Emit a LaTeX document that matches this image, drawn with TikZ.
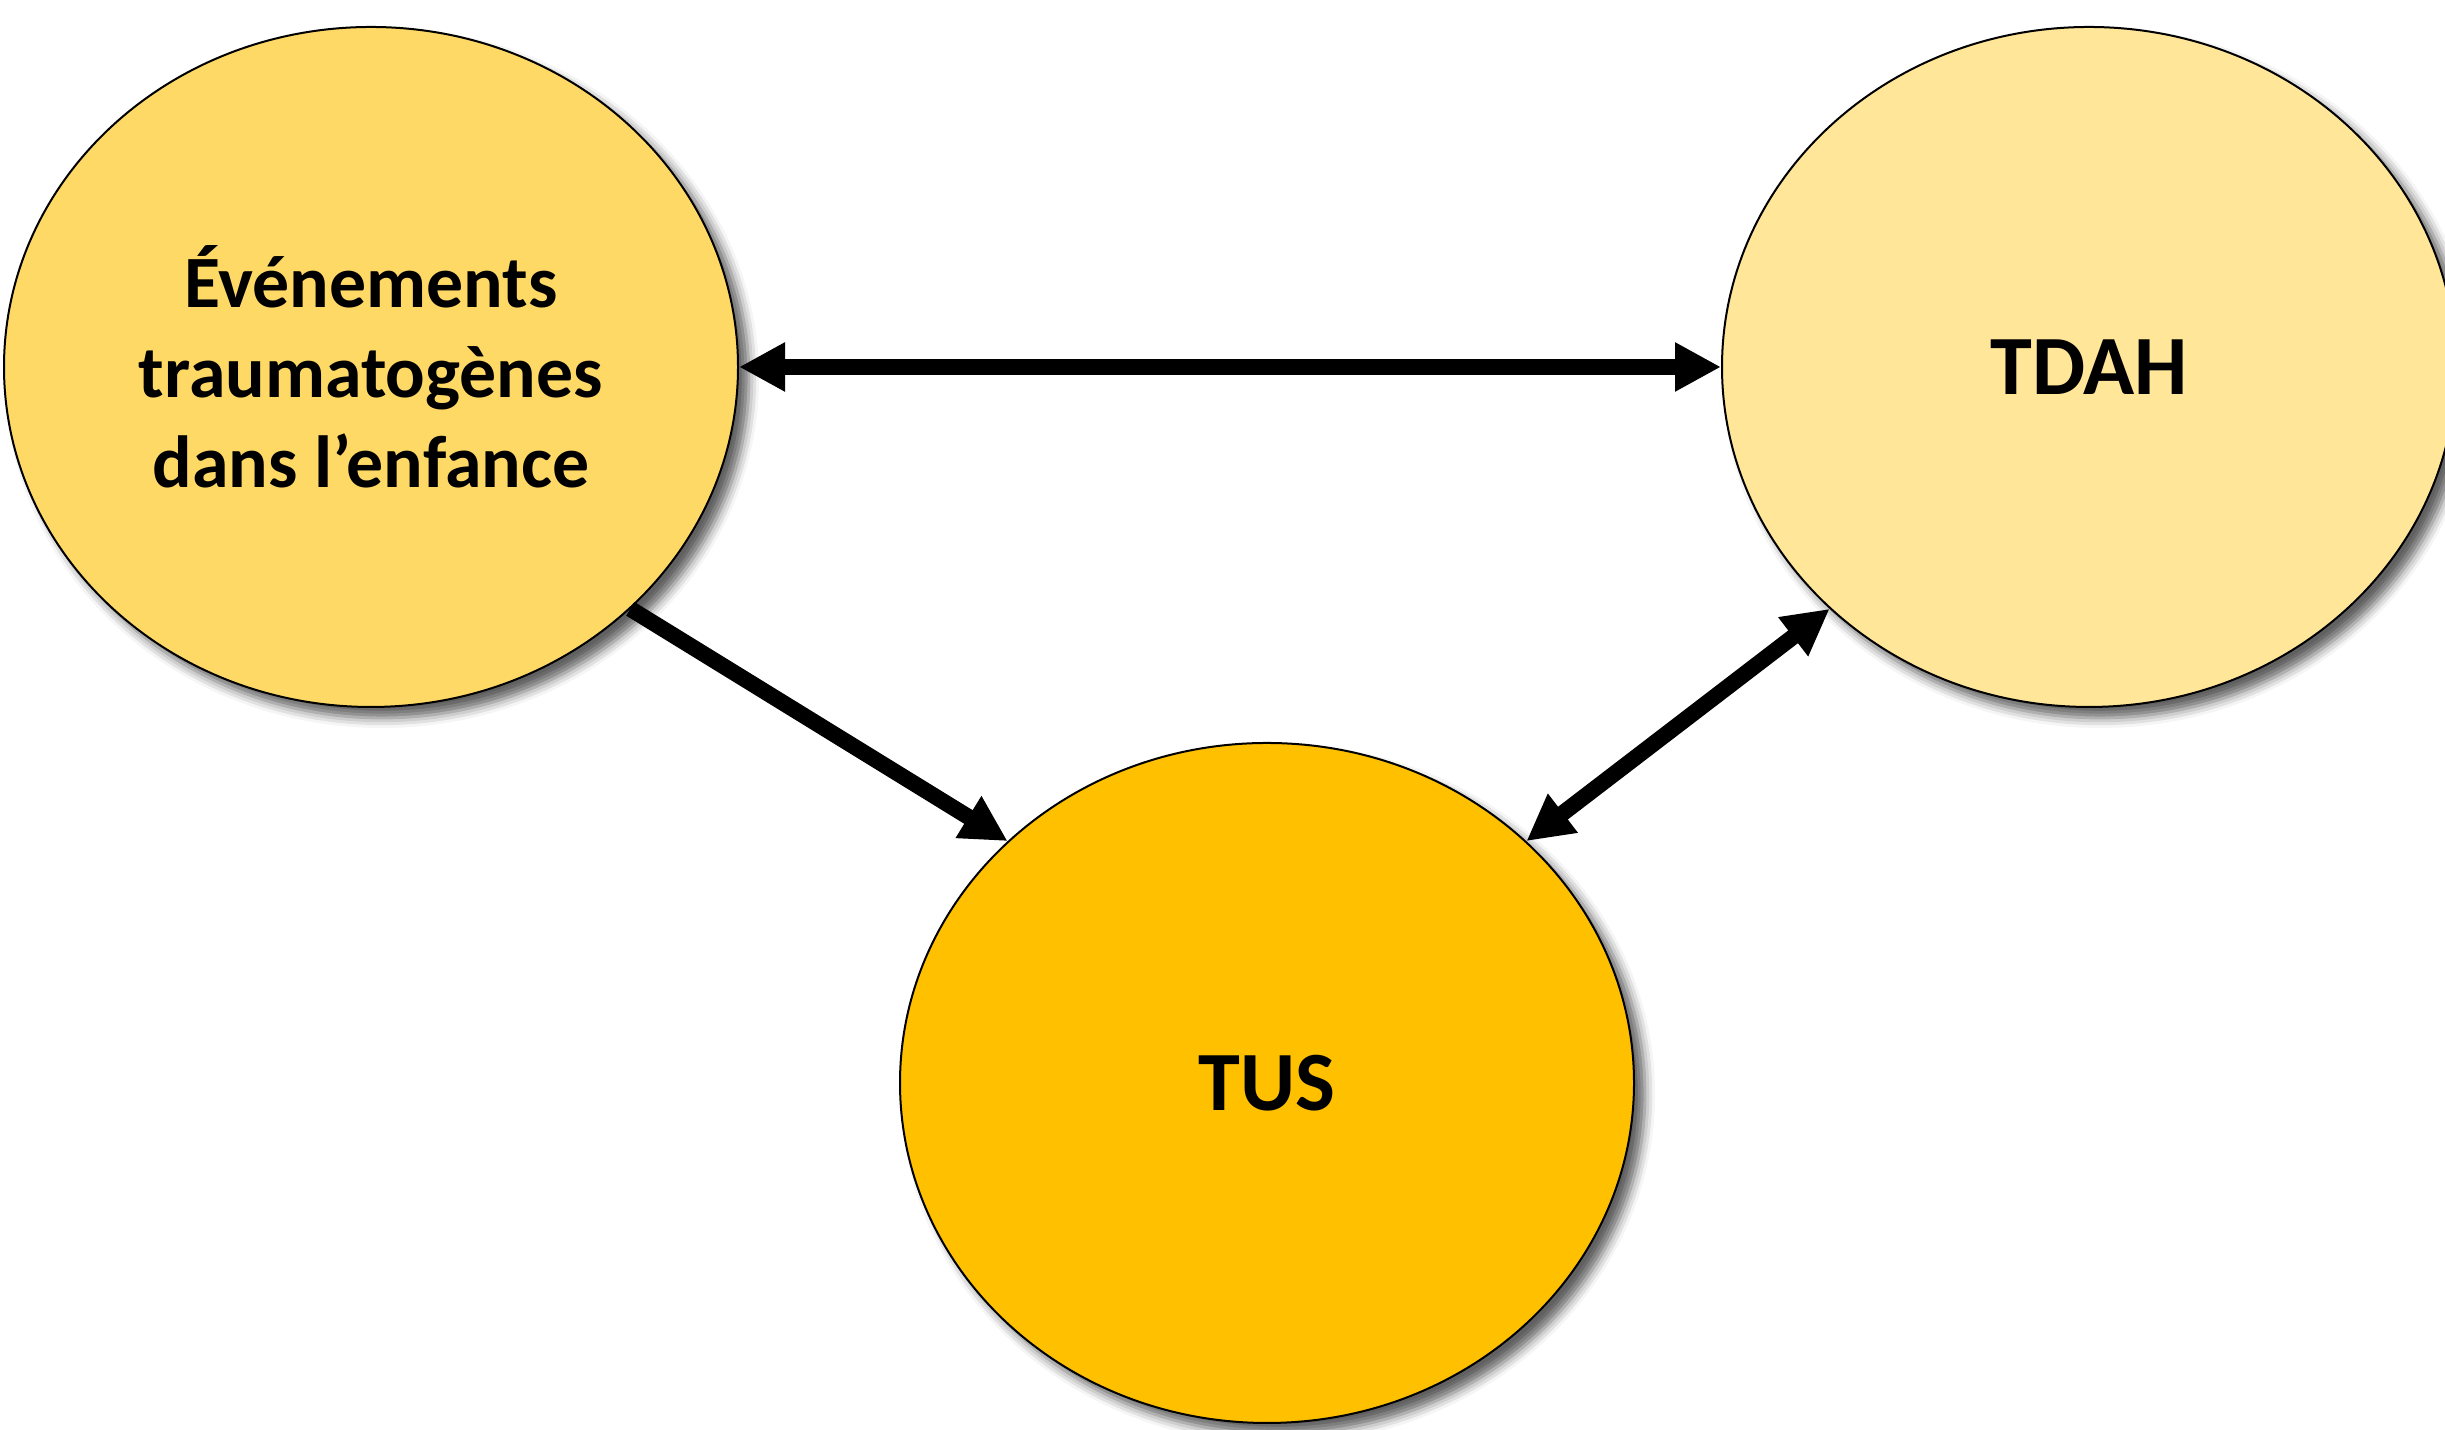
\documentclass[tikz,border=0pt]{standalone}
\usepackage{fontspec}
\setmainfont{Carlito}
\usetikzlibrary{shapes.geometric,arrows.meta,shadows.blur}
\definecolor{goldA}{HTML}{FFD966}
\definecolor{goldB}{HTML}{FFE699}
\definecolor{goldC}{HTML}{FFC000}
\tikzset{
  bubble/.style={ellipse, draw=black, line width=0.02cm, inner sep=0pt,
    minimum width=7.34cm, minimum height=6.80cm, align=center,
    font=\bfseries\fontsize{24pt}{29pt}\selectfont,
    blur shadow={shadow xshift=0.11cm, shadow yshift=-0.11cm, shadow blur radius=0.1cm, shadow opacity=62}},
  conn/.style={line width=0.16cm, black},
  tipA/.tip={Triangle[length=0.46cm, width=0.46cm]}
}
\begin{document}
\begin{tikzpicture}
\useasboundingbox (0,0) rectangle (24.45,14.30);
\node[bubble, fill=goldA, font=\bfseries\fontsize{21pt}{25.6pt}\selectfont] (L) at (3.71,10.63) {Événements\\traumatogènes\\dans l’enfance};
\node[bubble, fill=goldB] (R) at (20.89,10.63) {TDAH};
\node[bubble, fill=goldC] (U) at (12.67,3.47) {TUS};
\draw[conn, {tipA}-{tipA}] (L.east) -- (R.west);
\draw[conn, -{tipA}] (L.-43) -- (U.137);
\draw[conn, {tipA}-{tipA}] (U.43) -- (R.-137);
\end{tikzpicture}
\end{document}
